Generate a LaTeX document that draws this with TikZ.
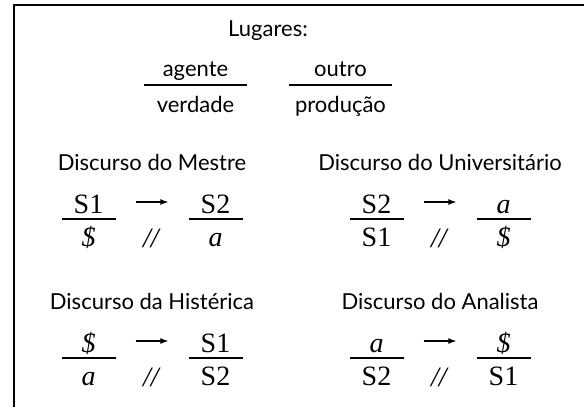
\documentclass[tikz,border=0pt]{standalone}
\usepackage{fontspec}
\setmainfont{Liberation Serif}
\newfontfamily\lugarfont{Lato}
\usetikzlibrary{arrows.meta}

\tikzset{
  lugar/.style={font=\lugarfont\fontsize{22}{24}\selectfont, inner sep=0pt, anchor=base},
  bar/.style={fill=black, inner sep=0pt, minimum width=54pt, minimum height=1.4pt},
  lacan/.style={font=\fontsize{28}{30}\selectfont, inner sep=0pt, anchor=base},
  seta/.style={-{Latex[length=8pt,width=6pt]}, line width=1.1pt, shorten <=20pt, shorten >=20pt},
}

\begin{document}
\begin{tikzpicture}[x=1pt,y=-1pt]
\useasboundingbox (0,0) rectangle (584,407);
\draw[line width=1.4pt] (14,407) -- (14,5) -- (584,5);

% os lugares
\node[lugar] (lugares) at (268,36) {Lugares:};
\node[bar, minimum width=103pt] (lagente) at (195.5,85) {};
\node[lugar] (agente) at (195.5,76) {agente};
\node[lugar] (verdade) at (195.5,112) {verdade};
\node[bar, minimum width=103pt] (loutro) at (340.5,85) {};
\node[lugar] (outro) at (340.5,76) {outro};
\node[lugar] (producao) at (340.5,112) {produção};

% os quatro discursos
\foreach \i/\cx/\cy/\titulo/\ag/\ve/\ou/\pr in {
    1/152/219/{Discurso do Mestre}/S1/\textit{\$}/S2/\textit{a},
    2/440/219/{Discurso do Universitário}/S2/S1/\textit{a}/\textit{\$},
    3/152/358/{Discurso da Histérica}/\textit{\$}/\textit{a}/S1/S2,
    4/440/358/{Discurso do Analista}/\textit{a}/S2/\textit{\$}/S1}{
    \node[lugar] (t\i) at (\cx,\cy-49) {\titulo};
    \node[bar] (e\i) at (\cx-63.5,\cy) {};
    \node[bar] (d\i) at (\cx+63.5,\cy) {};
    \node[lacan] (ag\i) at (\cx-63.5,\cy-6) {\ag};
    \node[lacan] (ve\i) at (\cx-63.5,\cy+27) {\ve};
    \node[lacan] (ou\i) at (\cx+63.5,\cy-6) {\ou};
    \node[lacan] (pr\i) at (\cx+63.5,\cy+27) {\pr};
    \node[lacan] (b\i) at (\cx,\cy+28) {\textit{//}};
    \draw[seta] ([yshift=17pt]e\i.east) -- ([yshift=17pt]d\i.west);
}
\end{tikzpicture}
\end{document}
